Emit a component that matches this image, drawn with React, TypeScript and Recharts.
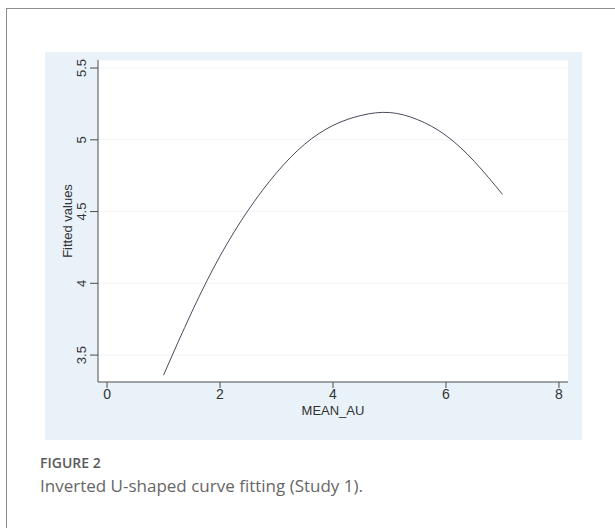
import { LineChart, Line, XAxis, YAxis, CartesianGrid } from "recharts";

// values
const meanAu = [1, 1.5, 2, 2.5, 3, 3.5, 4, 4.5, 5, 5.5, 6, 6.5, 7];
const fittedValues = [3.36, 3.8, 4.19, 4.51, 4.77, 4.97, 5.1, 5.17, 5.19, 5.14, 5.03, 4.85, 4.62];
const xTicks = [0, 2, 4, 6, 8];
const yTicks = [3.5, 4, 4.5, 5, 5.5];

const data = meanAu.map((x, i) => ({ x, fitted: fittedValues[i] }));

const axisColor = "#4d4d4d";
const font = "'Liberation Sans', Arial, Helvetica, sans-serif";

const YTick = ({ x, y, payload }: any) => (
  <text
    x={x - 2}
    y={y}
    transform={`rotate(-90, ${x - 2}, ${y})`}
    textAnchor="middle"
    fontSize={13}
    fill="#333"
    fontFamily={font}
  >
    {payload.value}
  </text>
);

const App = () => {
  return (
    <div
      style={{
        position: "absolute",
        left: 0,
        top: 0,
        width: 615,
        height: 528,
        background: "#fff",
        overflow: "hidden",
      }}
    >
      <div
        style={{
          position: "absolute",
          left: 6,
          top: 8,
          width: 700,
          height: 600,
          border: "1px solid #8c8c8c",
        }}
      />
      <div
        style={{
          position: "absolute",
          left: 45,
          top: 52,
          width: 537,
          height: 388,
          background: "#e9f1f9",
        }}
      >
        <LineChart
          width={537}
          height={388}
          data={data}
          margin={{ top: 8, right: 14, left: 0, bottom: 0 }}
          style={{ fontFamily: font }}
        >
          <CartesianGrid vertical={false} stroke="#f1f3f5" fill="#ffffff" />
          <XAxis
            dataKey="x"
            type="number"
            domain={[-0.16, 8.16]}
            ticks={xTicks}
            height={58}
            tickSize={6}
            tickMargin={1}
            axisLine={{ stroke: axisColor }}
            tickLine={{ stroke: axisColor }}
            tick={{ fontSize: 14, fill: "#333" }}
            label={{
              content: ({ viewBox }: any) => (
                <text
                  x={viewBox.x + viewBox.width / 2}
                  y={viewBox.y + 33}
                  textAnchor="middle"
                  fontSize={13}
                  fill="#333"
                  fontFamily={font}
                >
                  MEAN_AU
                </text>
              ),
            }}
          />
          <YAxis
            type="number"
            domain={[3.3125, 5.556]}
            ticks={yTicks}
            width={53}
            tickSize={8}
            tickMargin={2}
            axisLine={{ stroke: axisColor }}
            tickLine={{ stroke: axisColor }}
            tick={<YTick />}
            label={{
              content: ({ viewBox }: any) => {
                const lx = viewBox.x + 27;
                const ly = viewBox.y + viewBox.height / 2;
                return (
                  <text
                    x={lx}
                    y={ly}
                    transform={`rotate(-90, ${lx}, ${ly})`}
                    textAnchor="middle"
                    fontSize={13}
                    fill="#333"
                    fontFamily={font}
                  >
                    Fitted values
                  </text>
                );
              },
            }}
          />
          <Line
            type="natural"
            dataKey="fitted"
            stroke="#4a4a5c"
            strokeWidth={1}
            dot={false}
            isAnimationActive={false}
          />
        </LineChart>
      </div>
      <div
        style={{
          position: "absolute",
          left: 40,
          top: 453,
          fontFamily: "'Open Sans', 'Noto Sans', sans-serif",
          color: "#5a5a5a",
        }}
      >
        <div style={{ fontSize: 14, fontWeight: 600, lineHeight: "20px" }}>FIGURE 2</div>
        <div style={{ fontSize: 17, lineHeight: "26px", color: "#666" }}>
          Inverted U-shaped curve fitting (Study 1).
        </div>
      </div>
    </div>
  );
};

export default App;
